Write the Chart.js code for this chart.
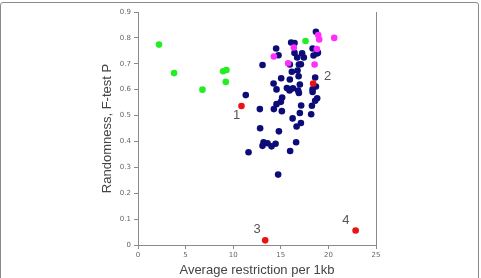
<!DOCTYPE html>
<html>
<head>
<meta charset="utf-8">
<script src="https://cdn.jsdelivr.net/npm/chart.js@4.4.0/dist/chart.umd.min.js"></script>
<style>
  body { margin: 0; background: #fff; }
  #wrap { position: relative; width: 481px; height: 278px; }
  #frame { position: absolute; left: 0; top: 2px; width: 477px; height: 290px; border: 1px solid #8a8a8a; border-radius: 3px; pointer-events: none; }
</style>
</head>
<body>
<div id="wrap">
  <canvas id="plot" width="481" height="278"></canvas>
  <div id="frame"></div>
</div>
<script>
// navy: ordinary samples
var navyX = [18.69, 13.08, 14.51, 14.76, 16.09, 16.44, 16.44, 16.72, 17.24, 17.42,
  15.95, 16.90, 17.11, 18.34, 18.44, 18.79, 18.90, 16.16, 16.76, 16.87,
  15.04, 15.95, 14.24, 17.00, 18.61, 14.55, 15.64, 15.92, 16.27, 16.82,
  16.90, 18.34, 18.34, 18.69, 18.82, 18.61, 11.32, 15.14, 14.55, 15.01,
  12.80, 14.27, 15.11, 17.14, 18.27, 17.00, 18.19, 16.24, 17.11, 16.66,
  12.83, 14.80, 13.19, 13.61, 14.45, 13.08, 14.03, 16.61, 11.61, 15.98, 14.72]
var navyY = [0.824, 0.695, 0.759, 0.733, 0.782, 0.780, 0.742, 0.724, 0.740, 0.724,
  0.697, 0.697, 0.698, 0.759, 0.732, 0.740, 0.743, 0.669, 0.674, 0.652,
  0.644, 0.639, 0.624, 0.620, 0.647, 0.601, 0.606, 0.597, 0.605, 0.597,
  0.587, 0.601, 0.591, 0.612, 0.567, 0.557, 0.579, 0.570, 0.544, 0.553,
  0.525, 0.525, 0.517, 0.539, 0.538, 0.510, 0.505, 0.489, 0.471, 0.458,
  0.451, 0.439, 0.397, 0.393, 0.391, 0.383, 0.381, 0.397, 0.358, 0.363, 0.272]

var magentaX = [14.27, 15.77, 16.37, 18.55, 18.79, 18.93, 19.03, 20.61]
var magentaY = [0.728, 0.702, 0.763, 0.697, 0.757, 0.811, 0.794, 0.800]

var greenX = [2.21, 3.79, 6.77, 8.94, 9.29, 9.22, 17.6]
var greenY = [0.774, 0.664, 0.600, 0.671, 0.676, 0.630, 0.788]

var redX = [10.87, 18.4, 13.36, 22.86]
var redY = [0.537, 0.624, 0.018, 0.056]

// numbered labels next to the red points (data units)
var noteText = ["1", "2", "3", "4"]
var noteX = [10.35, 19.92, 12.51, 21.84]
var noteY = [0.502, 0.652, 0.059, 0.094]

function pts(xs, ys) {
    return xs.map(function (x, i) { return { x: x, y: ys[i] } })
}

function ds(xs, ys, color, order) {
    return {
        data: pts(xs, ys),
        backgroundColor: color,
        borderWidth: 0,
        pointRadius: 3.3,
        pointHoverRadius: 3.3,
        order: order
    }
}

const extras = {
    id: 'extras',
    afterDatasetsDraw: (chart) => {
        const ctx = chart.ctx
        const a = chart.chartArea
        const sx = chart.scales.x, sy = chart.scales.y
        ctx.save()
        // right edge of plot box
        ctx.strokeStyle = '#8a8a8a'
        ctx.lineWidth = 1
        ctx.beginPath()
        ctx.moveTo(Math.round(a.right) + 0.5, a.top)
        ctx.lineTo(Math.round(a.right) + 0.5, a.bottom)
        ctx.stroke()
        ctx.fillStyle = '#555'
        ctx.font = '13px "Liberation Sans", Arial, sans-serif'
        ctx.textAlign = 'center'
        ctx.textBaseline = 'middle'
        noteText.forEach((t, i) => {
            ctx.fillText(t, sx.getPixelForValue(noteX[i]), sy.getPixelForValue(noteY[i]))
        })
        ctx.restore()
    }
}

var tickFont = { family: 'DejaVu Sans', size: 7 }
var titleFont = { family: 'Liberation Sans', size: 13 }

new Chart(document.getElementById('plot').getContext('2d'), {
    type: 'scatter',
    data: {
        datasets: [
            ds(redX, redY, '#ee1111', 0),
            ds(magentaX, magentaY, '#ff2eff', 1),
            ds(greenX, greenY, '#22ee22', 2),
            ds(navyX, navyY, '#0c0c78', 3)
        ]
    },
    options: {
        responsive: false,
        animation: false,
        layout: { padding: { left: 100, right: 105, top: 12, bottom: 0 } },
        plugins: { legend: { display: false }, tooltip: { enabled: false } },
        scales: {
            x: {
                type: 'linear', min: 0, max: 25,
                afterFit: (s) => { s.height = 33 },
                ticks: { stepSize: 5, color: '#666', font: tickFont, padding: 2, maxRotation: 0 },
                grid: { drawOnChartArea: false, drawTicks: true, tickLength: 4, color: '#8a8a8a' },
                border: { color: '#8a8a8a' },
                title: { display: true, text: 'Average restriction per 1kb', color: '#444', font: titleFont, padding: 0 }
            },
            y: {
                min: 0, max: 0.9,
                afterFit: (s) => { s.width = 38 },
                ticks: { stepSize: 0.1, color: '#666', font: tickFont, padding: 3 },
                grid: { drawOnChartArea: false, drawTicks: true, tickLength: 4, color: '#8a8a8a' },
                border: { color: '#8a8a8a' },
                title: { display: true, text: 'Randomness, F-test P', color: '#444', font: titleFont, padding: 0 }
            }
        }
    },
    plugins: [extras]
})
</script>
</body>
</html>
